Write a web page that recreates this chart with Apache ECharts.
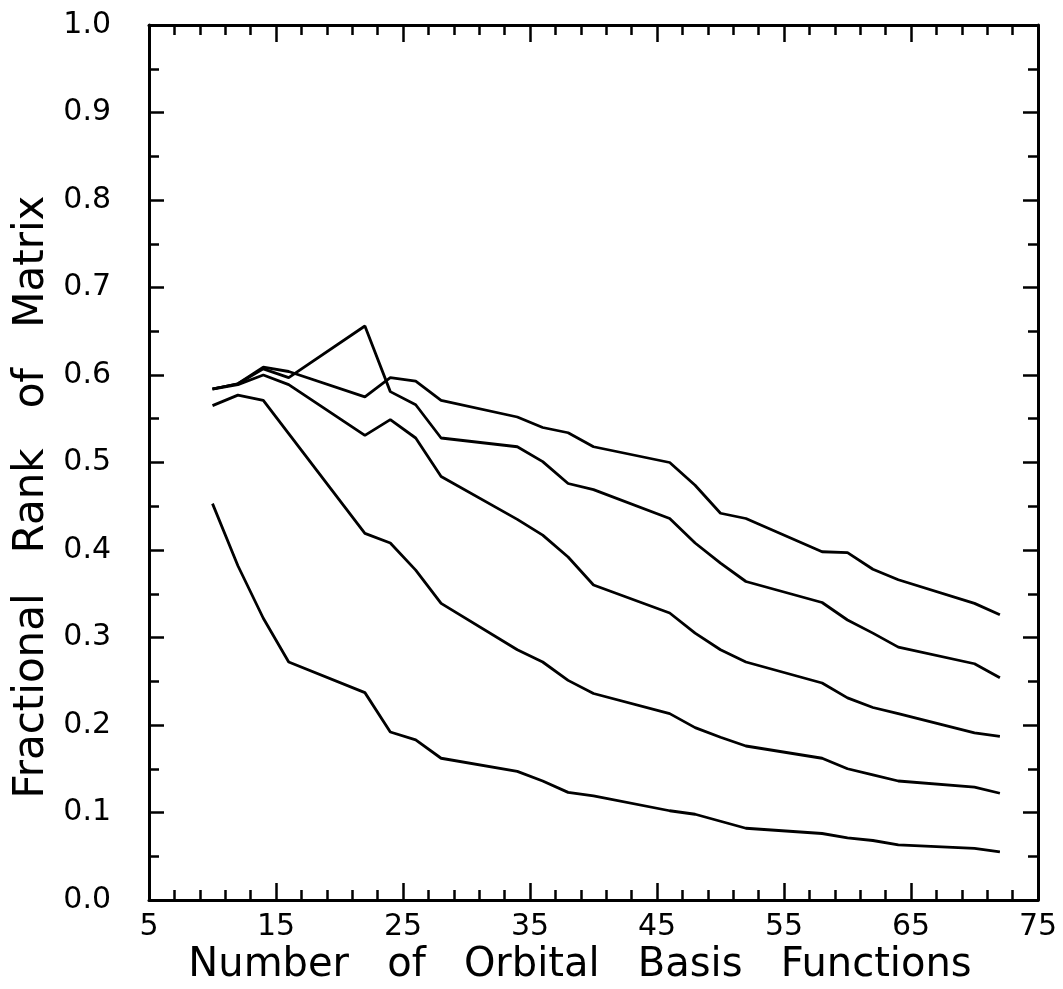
<!DOCTYPE html>
<html>
<head>
<meta charset="utf-8">
<script src="https://cdn.jsdelivr.net/npm/echarts@6/dist/echarts.min.js"></script>
<style>
html,body{margin:0;padding:0;background:#fff;}
#chart{width:1063px;height:989px;}
</style>
</head>
<body>
<div id="chart"></div>
<script>
// Number of orbital basis functions (x positions of the vertices)
const basisFunctions = [10,12,14,16,22,24,26,28,34,36,38,40,46,48,50,52,58,60,62,64,70,72];
// Fractional rank of matrix, one array per curve (top to bottom at the right end)
const rankCurve1 = [0.584,0.590,0.609,0.604,0.575,0.597,0.593,0.571,0.552,0.540,0.534,0.518,0.500,0.474,0.442,0.436,0.398,0.397,0.378,0.366,0.339,0.326];
const rankCurve2 = [0.584,0.590,0.607,0.597,0.656,0.581,0.566,0.528,0.518,0.501,0.476,0.469,0.436,0.408,0.385,0.364,0.340,0.320,0.305,0.289,0.270,0.254];
const rankCurve3 = [0.584,0.589,0.600,0.589,0.531,0.549,0.528,0.484,0.435,0.417,0.392,0.360,0.328,0.305,0.286,0.272,0.248,0.231,0.220,0.213,0.191,0.187];
const rankCurve4 = [0.565,0.577,0.571,0.533,0.419,0.408,0.377,0.339,0.286,0.272,0.251,0.236,0.213,0.197,0.186,0.176,0.162,0.150,0.143,0.136,0.129,0.122];
const rankCurve5 = [0.453,0.382,0.322,0.272,0.237,0.192,0.183,0.162,0.147,0.136,0.123,0.119,0.102,0.098,0.090,0.082,0.076,0.071,0.068,0.063,0.059,0.055];
// Tick labels
const xMajorTicks = [5,15,25,35,45,55,65,75];
const xMinorTicks = [7,9,11,13,17,19,21,23,27,29,31,33,37,39,41,43,47,49,51,53,57,59,61,63,67,69,71,73];
const xTitle = 'Number   of   Orbital   Basis   Functions';
const yTitle = 'Fractional   Rank   of   Matrix';

const curves = [rankCurve1, rankCurve2, rankCurve3, rankCurve4, rankCurve5];
const FONT = '"DejaVu Sans", "Liberation Sans", sans-serif';
const BLACK = '#000';

function xAxisDef(position, ticks, len, showLine, showLabel) {
  return {
    type: 'value', gridIndex: 0, position: position, min: 5, max: 75,
    axisLine: { show: showLine, onZero: false, lineStyle: { color: BLACK, width: 3 } },
    axisTick: { show: true, inside: true, length: len, customValues: ticks, lineStyle: { color: BLACK, width: 2.5 } },
    axisLabel: showLabel ? { show: true, customValues: ticks, fontSize: 30, color: BLACK, fontFamily: FONT, margin: 12 } : { show: false },
    splitLine: { show: false }
  };
}
function yAxisDef(position, showLabel) {
  return {
    type: 'value', gridIndex: 0, position: position, min: 0, max: 1, interval: 0.1,
    axisLine: { show: true, onZero: false, lineStyle: { color: BLACK, width: 3 } },
    axisTick: { show: true, inside: true, length: 15, lineStyle: { color: BLACK, width: 2.5 } },
    minorTick: { show: true, splitNumber: 2, length: 10, lineStyle: { color: BLACK, width: 2.5 } },
    axisLabel: showLabel ? { show: true, fontSize: 30, color: BLACK, fontFamily: FONT, margin: 38, formatter: v => v.toFixed(1) } : { show: false },
    splitLine: { show: false },
    minorSplitLine: { show: false }
  };
}

const chart = echarts.init(document.getElementById('chart'), null, { renderer: 'canvas' });
chart.setOption({
  backgroundColor: '#fff',
  animation: false,
  grid: { left: 149, right: 25, top: 25, bottom: 89, containLabel: false },
  xAxis: [
    xAxisDef('bottom', xMajorTicks, 17, true, true),
    xAxisDef('bottom', xMinorTicks, 10, false, false),
    xAxisDef('top', xMajorTicks, 17, true, false),
    xAxisDef('top', xMinorTicks, 10, false, false)
  ],
  yAxis: [
    yAxisDef('left', true),
    yAxisDef('right', false)
  ],
  graphic: [
    { type: 'text', x: 580, y: 966, style: { text: xTitle, font: '40px ' + FONT, fill: BLACK, align: 'center', verticalAlign: 'middle' } },
    { type: 'text', x: 32, y: 497, rotation: Math.PI / 2, style: { text: yTitle, font: '42px ' + FONT, fill: BLACK, align: 'center', verticalAlign: 'middle' } }
  ],
  series: curves.map((c, i) => ({
    name: 'curve' + (i + 1),
    type: 'line',
    xAxisIndex: 0, yAxisIndex: 0,
    showSymbol: false,
    symbol: 'none',
    lineStyle: { color: BLACK, width: 2.8 },
    data: basisFunctions.map((x, j) => [x, c[j]])
  }))
});
</script>
</body>
</html>
